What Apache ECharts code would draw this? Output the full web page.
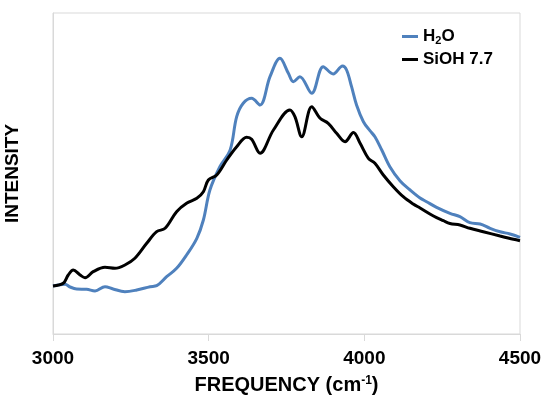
<!DOCTYPE html>
<html><head><meta charset="utf-8">
<script src="https://cdn.jsdelivr.net/npm/echarts@6/dist/echarts.min.js"></script>
<style>html,body{margin:0;padding:0;background:#fff}#c{width:545px;height:402px}</style>
</head><body><div id="c"></div>
<script>
const xTicks = [3000, 3500, 4000, 4500];
const h2oFreq = [3000,3039,3055,3076,3108,3135,3167,3193,3231,3269,3312,3333,3365,3397,3429,3462,3483,3504,3536,3569,3590,3611,3638,3665,3697,3729,3756,3772,3793,3831,3868,3900,3930,3943,3959,3975,3997,4018,4034,4056,4082,4115,4147,4179,4200,4232,4275,4307,4339,4372,4404,4436,4468,4500];
const h2oInt  = [48,49.7,47,45,44.7,43,47.3,45,42.3,44,47.3,48.3,57.3,65.7,79,95.7,114,144,167.3,184,217.3,230.7,235.7,229,257.3,275.7,260.7,252.3,257.3,240.7,267.3,260,268,264,247.3,229,212.3,203.3,197.3,184,167.3,153,144,136,132.3,126.7,120.7,117.3,111.3,110,105.7,102.3,100,96.7];
const siohFreq = [3000,3033,3049,3065,3087,3103,3129,3167,3199,3231,3263,3301,3333,3360,3397,3429,3462,3483,3499,3526,3558,3590,3622,3638,3665,3708,3761,3777,3799,3831,3858,3884,3911,3938,3965,3986,4013,4034,4061,4093,4125,4157,4179,4222,4254,4275,4307,4339,4382,4436,4479,4500];
const siohInt  = [48,50.7,59,64,59,56.3,62.3,66.7,65.7,69,75.7,90.7,102.3,105.7,122.3,130.7,135.7,142.3,154,159,174,187.3,196.7,194.7,180.7,204,224,217.3,197.3,227.3,215.7,210.7,200.7,192.3,201.5,191,175.7,170.7,159,147.3,137.3,130,126,118,113.3,110.5,109,105.7,102.3,98,94.7,93.3];
const seriesNames = ['H2O', 'SiOH 7.7'];

const FONT = 'Liberation Sans, Arial, sans-serif';
const chart = echarts.init(document.getElementById('c'), null, {renderer:'canvas'});
chart.setOption({
  animation: false,
  grid: {left: 53, right: 25, top: 13, bottom: 68, show: true, borderColor: '#d9d9d9', borderWidth: 1,
         containLabel: false, outerBoundsMode: 'none'},
  legend: {
    orient: 'vertical', left: 397, top: 23, itemGap: 5, itemWidth: 16, itemHeight: 3,
    icon: 'rect',
    data: seriesNames,
    formatter: n => n === 'H2O' ? 'H{sub|2}O' : n,
    textStyle: {fontFamily: FONT, fontWeight: 'bold', fontSize: 17, color: '#000',
      rich: {sub: {fontFamily: FONT, fontWeight: 'bold', fontSize: 11, color: '#000', padding: [8,0,0,0]}}}
  },
  xAxis: {
    type: 'value', min: 3000, max: 4500, interval: 500,
    name: 'FREQUENCY (cm{sup|-1})', nameLocation: 'middle', nameGap: 41,
    nameTextStyle: {fontFamily: FONT, fontWeight: 'bold', fontSize: 20, color: '#000',
      rich: {sup: {fontFamily: FONT, fontWeight: 'bold', fontSize: 12, color: '#000', padding: [0,0,9,0]}}},
    axisLine: {show: true, lineStyle: {color: '#d9d9d9', width: 1}},
    axisTick: {show: true, length: 7, lineStyle: {color: '#d9d9d9'}},
    splitLine: {show: false},
    axisLabel: {margin: 15, fontFamily: FONT, fontWeight: 'bold', fontSize: 19, color: '#000',
      formatter: v => xTicks.includes(v) ? String(v) : ''}
  },
  yAxis: {
    type: 'value', min: 0, max: 321,
    name: 'INTENSITY', nameLocation: 'middle', nameGap: 31,
    nameTextStyle: {fontFamily: FONT, fontWeight: 'bold', fontSize: 19, color: '#000'},
    axisLine: {show: true, lineStyle: {color: '#d9d9d9', width: 1}},
    axisTick: {show: false}, axisLabel: {show: false}, splitLine: {show: false}
  },
  series: [
    {name: seriesNames[0], type: 'line', showSymbol: false, smooth: 0.35, z: 2,
     data: h2oFreq.map((f,i) => [f, h2oInt[i]]),
     lineStyle: {color: '#4F81BD', width: 3}, itemStyle: {color: '#4F81BD'}},
    {name: seriesNames[1], type: 'line', showSymbol: false, smooth: 0.35, z: 3,
     data: siohFreq.map((f,i) => [f, siohInt[i]]),
     lineStyle: {color: '#000', width: 3}, itemStyle: {color: '#000'}}
  ]
});
</script></body></html>
